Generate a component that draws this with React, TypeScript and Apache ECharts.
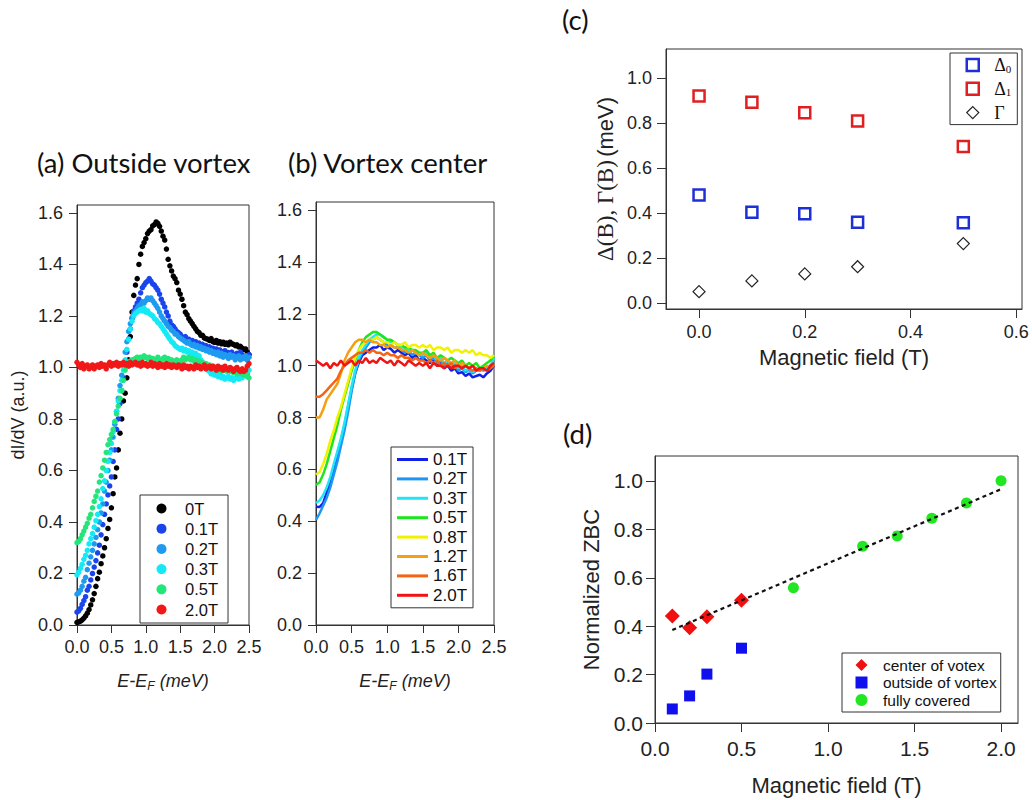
import React, { useEffect, useRef } from "react";
import * as echarts from "echarts";

// ---------------- data ----------------
// (a) Outside vortex: dI/dV sampled every 0.025 meV from 0 to 2.5 meV
const E_STEP_A = 0.025;
const fieldsA = ["0T", "0.1T", "0.2T", "0.3T", "0.5T", "2.0T"];
const colorsA = ["#000000", "#1a45ec", "#1e9bf0", "#14eaf5", "#22e67a", "#f01818"];
const dIdV_0T = [
  0.010, 0.012, 0.015, 0.020, 0.027, 0.035, 0.046, 0.060, 0.078, 0.098,
  0.122, 0.150, 0.180, 0.205, 0.238, 0.268, 0.300, 0.335, 0.375, 0.410,
  0.455, 0.510, 0.575, 0.610, 0.680, 0.745, 0.800, 0.870, 0.900, 0.960,
  1.030, 1.120, 1.215, 1.280, 1.320, 1.345, 1.400, 1.440, 1.470, 1.485,
  1.500, 1.520, 1.530, 1.535, 1.550, 1.555, 1.565, 1.560, 1.548, 1.530,
  1.510, 1.495, 1.460, 1.420, 1.395, 1.375, 1.355, 1.345, 1.330, 1.300,
  1.285, 1.265, 1.240, 1.215, 1.205, 1.190, 1.180, 1.170, 1.160, 1.150,
  1.140, 1.135, 1.125, 1.125, 1.115, 1.112, 1.110, 1.105, 1.112, 1.100,
  1.098, 1.105, 1.095, 1.100, 1.092, 1.098, 1.090, 1.095, 1.088, 1.098,
  1.092, 1.090, 1.085, 1.088, 1.080, 1.082, 1.075, 1.070, 1.072, 1.060,
  1.050,
];
const dIdV_01T = [
  0.050, 0.055, 0.065, 0.080, 0.095, 0.110, 0.135, 0.150, 0.175, 0.200,
  0.225, 0.250, 0.280, 0.310, 0.350, 0.390, 0.430, 0.470, 0.505, 0.540,
  0.575, 0.635, 0.680, 0.760, 0.800, 0.860, 0.910, 0.960, 1.010, 1.060,
  1.110, 1.150, 1.190, 1.220, 1.235, 1.250, 1.265, 1.290, 1.310, 1.320,
  1.330, 1.335, 1.345, 1.335, 1.325, 1.320, 1.310, 1.300, 1.285, 1.265,
  1.250, 1.235, 1.215, 1.200, 1.180, 1.165, 1.160, 1.150, 1.140, 1.135,
  1.130, 1.120, 1.115, 1.120, 1.105, 1.110, 1.100, 1.105, 1.095, 1.100,
  1.090, 1.095, 1.085, 1.090, 1.080, 1.085, 1.075, 1.080, 1.070, 1.075,
  1.065, 1.072, 1.060, 1.068, 1.062, 1.055, 1.065, 1.050, 1.058, 1.045,
  1.060, 1.050, 1.040, 1.055, 1.045, 1.060, 1.050, 1.035, 1.045, 1.030,
  1.050,
];
const dIdV_02T = [
  0.120, 0.125, 0.135, 0.150, 0.170, 0.185, 0.215, 0.240, 0.265, 0.290,
  0.315, 0.340, 0.370, 0.400, 0.435, 0.470, 0.520, 0.555, 0.600, 0.640,
  0.680, 0.730, 0.780, 0.830, 0.880, 0.930, 0.970, 1.010, 1.060, 1.100,
  1.140, 1.170, 1.195, 1.210, 1.220, 1.230, 1.240, 1.245, 1.255, 1.250,
  1.260, 1.270, 1.265, 1.270, 1.260, 1.250, 1.240, 1.230, 1.215, 1.200,
  1.190, 1.180, 1.170, 1.160, 1.155, 1.145, 1.140, 1.130, 1.130, 1.120,
  1.115, 1.110, 1.105, 1.100, 1.095, 1.100, 1.090, 1.085, 1.090, 1.080,
  1.085, 1.075, 1.080, 1.070, 1.075, 1.065, 1.070, 1.060, 1.065, 1.055,
  1.060, 1.050, 1.060, 1.045, 1.055, 1.040, 1.050, 1.045, 1.035, 1.050,
  1.040, 1.045, 1.030, 1.040, 1.045, 1.030, 1.040, 1.035, 1.045, 1.030,
  1.040,
];
const dIdV_03T = [
  0.195, 0.205, 0.220, 0.235, 0.255, 0.270, 0.290, 0.315, 0.335, 0.355,
  0.380, 0.405, 0.430, 0.460, 0.490, 0.530, 0.560, 0.600, 0.635, 0.670,
  0.705, 0.750, 0.790, 0.830, 0.870, 0.910, 0.950, 0.990, 1.030, 1.070,
  1.110, 1.150, 1.180, 1.200, 1.210, 1.215, 1.220, 1.225, 1.220, 1.230,
  1.215, 1.220, 1.210, 1.205, 1.200, 1.190, 1.185, 1.175, 1.170, 1.160,
  1.150, 1.140, 1.130, 1.120, 1.110, 1.100, 1.095, 1.085, 1.080, 1.075,
  1.070, 1.075, 1.065, 1.070, 1.060, 1.065, 1.055, 1.060, 1.050, 1.055,
  1.040, 1.045, 1.030, 1.020, 1.010, 1.000, 0.990, 0.985, 0.975, 0.980,
  0.970, 0.975, 0.965, 0.970, 0.960, 0.965, 0.955, 0.960, 0.965, 0.955,
  0.960, 0.950, 0.958, 0.962, 0.955, 0.965, 0.960, 0.970, 0.975, 0.985,
  0.990,
];
const dIdV_05T = [
  0.320, 0.325, 0.335, 0.350, 0.365, 0.380, 0.395, 0.415, 0.430, 0.455,
  0.480, 0.500, 0.520, 0.555, 0.580, 0.610, 0.640, 0.670, 0.700, 0.720,
  0.740, 0.760, 0.790, 0.820, 0.850, 0.880, 0.910, 0.950, 0.990, 1.010,
  1.020, 1.025, 1.030, 1.030, 1.035, 1.040, 1.030, 1.040, 1.035, 1.045,
  1.040, 1.035, 1.040, 1.030, 1.035, 1.025, 1.030, 1.040, 1.030, 1.025,
  1.035, 1.040, 1.030, 1.035, 1.025, 1.030, 1.020, 1.025, 1.030, 1.020,
  1.025, 1.030, 1.040, 1.030, 1.035, 1.040, 1.030, 1.035, 1.025, 1.030,
  1.020, 1.025, 1.015, 1.020, 1.010, 1.015, 1.005, 1.010, 1.000, 1.005,
  0.995, 1.000, 0.990, 0.995, 0.985, 0.995, 0.990, 0.985, 0.995, 0.985,
  0.990, 0.980, 0.985, 0.975, 0.985, 0.980, 0.975, 0.970, 0.980, 0.965,
  0.960,
];
const dIdV_20T = [
  1.020, 1.010, 1.000, 1.015, 0.995, 1.005, 1.010, 0.995, 1.000, 1.010,
  0.995, 1.005, 1.010, 1.000, 1.015, 1.005, 1.010, 0.995, 1.010, 1.020,
  1.005, 1.015, 1.010, 1.020, 1.005, 1.015, 1.010, 1.020, 1.010, 1.015,
  1.005, 1.020, 1.010, 1.015, 1.020, 1.010, 1.015, 1.005, 1.020, 1.010,
  1.015, 1.005, 1.010, 1.020, 1.005, 1.015, 1.010, 1.000, 1.015, 1.005,
  1.010, 1.000, 1.015, 1.005, 1.010, 1.000, 1.010, 1.005, 1.000, 1.010,
  1.005, 0.995, 1.010, 1.000, 1.005, 0.995, 1.005, 1.000, 0.995, 1.010,
  1.000, 1.005, 0.995, 1.000, 1.010, 0.995, 1.000, 1.005, 0.995, 1.005,
  1.000, 0.990, 1.005, 0.995, 1.000, 0.990, 1.005, 0.995, 0.990, 1.000,
  0.995, 0.985, 0.995, 1.000, 0.990, 0.985, 0.995, 0.985, 0.990, 1.005,
  1.015,
];
const seriesA = [dIdV_0T, dIdV_01T, dIdV_02T, dIdV_03T, dIdV_05T, dIdV_20T];

// (b) Vortex center: dI/dV sampled every 0.05 meV from 0 to 2.5 meV
const E_STEP_B = 0.05;
const fieldsB = ["0.1T", "0.2T", "0.3T", "0.5T", "0.8T", "1.2T", "1.6T", "2.0T"];
const colorsB = ["#1020e6", "#1e96f5", "#1ee6f5", "#1ee61e", "#f2f200", "#f5a014", "#f56414", "#f01414"];
const vc_01T = [0.456, 0.455, 0.47, 0.51, 0.55, 0.60, 0.65, 0.71, 0.77, 0.84, 0.91, 0.97, 1.01, 1.04, 1.05, 1.06, 1.07, 1.07, 1.08, 1.06, 1.07, 1.065, 1.05, 1.06, 1.05, 1.04, 1.05, 1.03, 1.04, 1.02, 1.03, 1.02, 1.01, 1.02, 1.00, 1.01, 0.99, 1.00, 0.98, 0.99, 0.97, 0.975, 0.96, 0.97, 0.955, 0.96, 0.965, 0.955, 0.97, 0.98, 1.00];
const vc_02T = [0.405, 0.43, 0.46, 0.49, 0.53, 0.58, 0.63, 0.69, 0.75, 0.82, 0.90, 0.97, 1.02, 1.05, 1.07, 1.09, 1.10, 1.11, 1.10, 1.09, 1.08, 1.08, 1.07, 1.07, 1.06, 1.05, 1.06, 1.04, 1.05, 1.04, 1.03, 1.04, 1.02, 1.03, 1.01, 1.02, 1.00, 1.01, 0.99, 1.00, 0.98, 0.99, 0.975, 0.985, 0.97, 0.98, 0.99, 0.98, 0.99, 1.00, 1.02];
const vc_03T = [0.47, 0.48, 0.50, 0.53, 0.57, 0.62, 0.67, 0.72, 0.78, 0.85, 0.92, 0.98, 1.03, 1.06, 1.08, 1.10, 1.11, 1.12, 1.12, 1.11, 1.10, 1.09, 1.09, 1.08, 1.07, 1.07, 1.06, 1.06, 1.05, 1.05, 1.04, 1.05, 1.03, 1.04, 1.02, 1.03, 1.01, 1.02, 1.00, 1.01, 0.99, 1.00, 0.98, 0.99, 0.975, 0.985, 0.98, 0.99, 0.985, 1.00, 1.03];
const vc_05T = [0.54, 0.55, 0.58, 0.62, 0.67, 0.72, 0.77, 0.83, 0.88, 0.93, 0.98, 1.02, 1.06, 1.09, 1.11, 1.12, 1.13, 1.13, 1.12, 1.11, 1.10, 1.10, 1.09, 1.08, 1.08, 1.07, 1.07, 1.06, 1.06, 1.05, 1.05, 1.06, 1.04, 1.05, 1.03, 1.04, 1.03, 1.02, 1.03, 1.02, 1.01, 1.02, 1.00, 1.01, 1.00, 1.01, 0.99, 1.00, 1.01, 1.02, 1.04];
const vc_08T = [0.58, 0.59, 0.62, 0.66, 0.71, 0.75, 0.80, 0.84, 0.89, 0.94, 0.99, 1.03, 1.06, 1.08, 1.09, 1.10, 1.10, 1.11, 1.10, 1.09, 1.09, 1.08, 1.09, 1.08, 1.08, 1.09, 1.07, 1.08, 1.08, 1.07, 1.08, 1.07, 1.08, 1.06, 1.07, 1.07, 1.06, 1.07, 1.05, 1.06, 1.06, 1.05, 1.06, 1.05, 1.06, 1.04, 1.05, 1.04, 1.04, 1.03, 1.04];
const vc_12T = [0.80, 0.80, 0.83, 0.87, 0.89, 0.91, 0.93, 0.97, 1.02, 1.05, 1.07, 1.09, 1.10, 1.10, 1.09, 1.10, 1.09, 1.09, 1.08, 1.08, 1.07, 1.08, 1.07, 1.07, 1.06, 1.06, 1.05, 1.06, 1.05, 1.04, 1.05, 1.04, 1.03, 1.04, 1.03, 1.02, 1.03, 1.02, 1.01, 1.02, 1.00, 1.01, 1.00, 0.99, 1.00, 0.99, 0.98, 0.99, 1.00, 0.99, 1.01];
const vc_16T = [0.88, 0.88, 0.89, 0.905, 0.92, 0.935, 0.95, 0.98, 1.00, 1.02, 1.03, 1.04, 1.05, 1.05, 1.06, 1.05, 1.06, 1.05, 1.05, 1.04, 1.05, 1.04, 1.04, 1.03, 1.04, 1.03, 1.03, 1.02, 1.03, 1.02, 1.02, 1.01, 1.02, 1.01, 1.02, 1.00, 1.01, 1.00, 1.01, 0.99, 1.00, 0.99, 1.00, 0.99, 0.98, 0.99, 0.98, 0.99, 0.98, 0.99, 1.00];
const vc_20T = [1.02, 1.01, 1.00, 1.01, 0.99, 1.01, 1.00, 1.02, 1.00, 1.01, 1.02, 1.00, 1.02, 1.01, 1.03, 1.01, 1.02, 1.01, 1.03, 1.02, 1.01, 1.02, 1.00, 1.02, 1.01, 1.00, 1.02, 1.01, 1.00, 1.01, 1.00, 1.01, 0.99, 1.01, 1.00, 1.00, 0.99, 1.00, 0.99, 1.00, 1.00, 0.99, 1.00, 0.99, 1.00, 0.98, 0.99, 0.99, 0.98, 1.00, 1.01];
const seriesB = [vc_01T, vc_02T, vc_03T, vc_05T, vc_08T, vc_12T, vc_16T, vc_20T];

// (c) gap parameters
const fieldC = [0, 0.1, 0.2, 0.3, 0.5];
const delta0 = [0.48, 0.403, 0.397, 0.359, 0.356];
const delta1 = [0.92, 0.892, 0.846, 0.809, 0.695];
const gammaC = [0.05, 0.098, 0.129, 0.161, 0.264];

// (d) normalized ZBC
const fieldDVortex = [0.1, 0.2, 0.3, 0.5];
const zbcCenter = [0.442, 0.394, 0.439, 0.507];
const zbcOutside = [0.058, 0.112, 0.202, 0.309];
const fieldDFull = [0.8, 1.2, 1.4, 1.6, 1.8, 2.0];
const zbcFull = [0.559, 0.73, 0.773, 0.846, 0.909, 1.001];
const fitField = [0.1, 2.0];
const fitZbc = [0.384, 0.966];

// tick values
const ticksAB_y = [0, 0.2, 0.4, 0.6, 0.8, 1.0, 1.2, 1.4, 1.6];
const ticksAB_x = [0, 0.5, 1.0, 1.5, 2.0, 2.5];
const ticksC_x = [0, 0.2, 0.4, 0.6];
const ticksC_y = [0, 0.2, 0.4, 0.6, 0.8, 1.0];
const ticksD_x = [0, 0.5, 1.0, 1.5, 2.0];
const ticksD_y = [0, 0.2, 0.4, 0.6, 0.8, 1.0];

// ---------------- styling helpers ----------------
const SANS = "Arial, 'Liberation Sans', sans-serif";
const SERIF = "'Liberation Serif', 'Times New Roman', serif";
const TITLE_FONT = "Lato, 'Open Sans', sans-serif";
const INK = "#222";

const SQUARE_PATH = "path://M0,0L10,0L10,10L0,10Z";
const DIAMOND_PATH = "path://M5,0L10,5L5,10L0,5Z";

function valueAxis(opts: {
  gridIndex: number;
  min: number;
  max: number;
  ticks: number[];
  fontSize: number;
  tickLen: number;
  margin: number;
  name?: string;
  nameGap?: number;
  nameTextStyle?: any;
}) {
  return {
    type: "value",
    gridIndex: opts.gridIndex,
    min: opts.min,
    max: opts.max,
    name: opts.name || "",
    nameLocation: "middle",
    nameGap: opts.nameGap || 0,
    nameTextStyle: opts.nameTextStyle || {},
    axisLine: { show: true, onZero: false, lineStyle: { color: "#333", width: 1 } },
    axisTick: {
      show: true,
      inside: false,
      length: opts.tickLen,
      customValues: opts.ticks,
      lineStyle: { color: "#333", width: 1 },
    },
    axisLabel: {
      show: true,
      customValues: opts.ticks,
      margin: opts.margin,
      color: INK,
      fontSize: opts.fontSize,
      fontFamily: SANS,
      formatter: (v: number) => v.toFixed(1),
    },
    splitLine: { show: false },
  };
}

const eAxisName = {
  rich: {
    i: { fontStyle: "italic", fontSize: 18, fontFamily: SANS, color: INK, lineHeight: 22 },
    s: { fontStyle: "italic", fontSize: 12, fontFamily: SANS, color: INK, lineHeight: 12, verticalAlign: "bottom" },
  },
};

export default function App() {
  const ref = useRef<HTMLDivElement>(null);

  useEffect(() => {
    document.body.style.margin = "0";
    if (!ref.current) return;
    const chart = echarts.init(ref.current, undefined, { renderer: "svg" });

    const gridStyle = { show: true, borderColor: "#333", borderWidth: 1, backgroundColor: "transparent" };

    const series: any[] = [];
    seriesA.forEach((vals, k) => {
      series.push({
        name: "a" + fieldsA[k],
        type: "scatter",
        xAxisIndex: 0,
        yAxisIndex: 0,
        symbol: "circle",
        symbolSize: 5.5,
        itemStyle: { color: colorsA[k], opacity: 1 },
        data: vals.map((v, i) => [+(i * E_STEP_A).toFixed(3), v]),
        silent: true,
      });
    });
    seriesB.forEach((vals, k) => {
      series.push({
        name: "b" + fieldsB[k],
        type: "line",
        xAxisIndex: 1,
        yAxisIndex: 1,
        symbol: "none",
        showSymbol: false,
        lineStyle: { color: colorsB[k], width: 2.5 },
        itemStyle: { color: colorsB[k] },
        data: vals.map((v, i) => [+(i * E_STEP_B).toFixed(3), v]),
        silent: true,
      });
    });
    series.push(
      {
        name: "Δ0",
        type: "scatter",
        xAxisIndex: 2,
        yAxisIndex: 2,
        symbol: "rect",
        symbolSize: 11,
        itemStyle: { color: "#ffffff", borderColor: "#1f2fd8", borderWidth: 2.5, opacity: 1 },
        data: fieldC.map((b, i) => [b, delta0[i]]),
      },
      {
        name: "Δ1",
        type: "scatter",
        xAxisIndex: 2,
        yAxisIndex: 2,
        symbol: "rect",
        symbolSize: 11,
        itemStyle: { color: "#ffffff", borderColor: "#e02020", borderWidth: 2.5, opacity: 1 },
        data: fieldC.map((b, i) => [b, delta1[i]]),
      },
      {
        name: "Γ",
        type: "scatter",
        xAxisIndex: 2,
        yAxisIndex: 2,
        symbol: "diamond",
        symbolSize: 12,
        itemStyle: { color: "#ffffff", borderColor: "#222", borderWidth: 1.2, opacity: 1 },
        data: fieldC.map((b, i) => [b, gammaC[i]]),
      },
      {
        name: "fit",
        type: "line",
        xAxisIndex: 3,
        yAxisIndex: 3,
        symbol: "none",
        lineStyle: { color: "#111", width: 2.2, type: [4, 3.5] },
        data: fitField.map((b, i) => [b, fitZbc[i]]),
        silent: true,
      },
      {
        name: "center of votex",
        type: "scatter",
        xAxisIndex: 3,
        yAxisIndex: 3,
        symbol: "diamond",
        symbolSize: 15,
        itemStyle: { color: "#f01010", opacity: 1 },
        data: fieldDVortex.map((b, i) => [b, zbcCenter[i]]),
      },
      {
        name: "outside of vortex",
        type: "scatter",
        xAxisIndex: 3,
        yAxisIndex: 3,
        symbol: "rect",
        symbolSize: 11,
        itemStyle: { color: "#1010ee", opacity: 1 },
        data: fieldDVortex.map((b, i) => [b, zbcOutside[i]]),
      },
      {
        name: "fully covered",
        type: "scatter",
        xAxisIndex: 3,
        yAxisIndex: 3,
        symbol: "circle",
        symbolSize: 11,
        itemStyle: { color: "#22e622", opacity: 1 },
        data: fieldDFull.map((b, i) => [b, zbcFull[i]]),
      }
    );

    const titleStyle = { fontFamily: TITLE_FONT, fontSize: 27.5, fontWeight: "normal", color: "#111" };

    const option: any = {
      animation: false,
      backgroundColor: "#ffffff",
      title: [
        { text: "(a) Outside vortex", left: 37, top: 148, padding: 0, textStyle: titleStyle },
        { text: "(b) Vortex center", left: 288, top: 148, padding: 0, textStyle: titleStyle },
        { text: "(c)", left: 562, top: 5, padding: 0, textStyle: titleStyle },
        { text: "(d)", left: 563, top: 419, padding: 0, textStyle: titleStyle },
      ],
      grid: [
        { left: 77, top: 205, width: 172, height: 420, ...gridStyle },
        { left: 316, top: 202, width: 178, height: 423, ...gridStyle },
        { left: 666, top: 49, width: 356, height: 260, ...gridStyle },
        { left: 655, top: 456, width: 363, height: 267, ...gridStyle },
      ],
      xAxis: [
        valueAxis({
          gridIndex: 0, min: 0, max: 2.5, ticks: ticksAB_x, fontSize: 18, tickLen: 8, margin: 13,
          name: "{i|E-E}{s|F}{i| (meV)}", nameGap: 45, nameTextStyle: eAxisName,
        }),
        valueAxis({
          gridIndex: 1, min: 0, max: 2.5, ticks: ticksAB_x, fontSize: 18, tickLen: 8, margin: 13,
          name: "{i|E-E}{s|F}{i| (meV)}", nameGap: 45, nameTextStyle: eAxisName,
        }),
        valueAxis({
          gridIndex: 2, min: -0.0625, max: 0.611, ticks: ticksC_x, fontSize: 18, tickLen: 9, margin: 14,
          name: "Magnetic field (T)", nameGap: 37,
          nameTextStyle: { fontSize: 22, fontFamily: SANS, color: INK },
        }),
        valueAxis({
          gridIndex: 3, min: 0, max: 2.098, ticks: ticksD_x, fontSize: 21, tickLen: 9, margin: 15,
          name: "Magnetic field (T)", nameGap: 51,
          nameTextStyle: { fontSize: 22, fontFamily: SANS, color: INK },
        }),
      ],
      yAxis: [
        valueAxis({
          gridIndex: 0, min: 0, max: 1.631, ticks: ticksAB_y, fontSize: 18, tickLen: 8, margin: 14,
          name: "dI/dV (a.u.)", nameGap: 50,
          nameTextStyle: { fontSize: 18, fontFamily: SANS, color: INK },
        }),
        valueAxis({
          gridIndex: 1, min: 0, max: 1.631, ticks: ticksAB_y, fontSize: 18, tickLen: 8, margin: 14,
        }),
        valueAxis({
          gridIndex: 2, min: -0.027, max: 1.129, ticks: ticksC_y, fontSize: 18, tickLen: 9, margin: 14,
          name: "{s|Δ(B), Γ(B)} {a|(meV)}", nameGap: 49,
          nameTextStyle: {
            rich: {
              s: { fontSize: 23, fontFamily: SERIF, color: INK },
              a: { fontSize: 22, fontFamily: SANS, color: INK },
            },
          },
        }),
        valueAxis({
          gridIndex: 3, min: 0, max: 1.103, ticks: ticksD_y, fontSize: 21, tickLen: 9, margin: 12,
          name: "Normalized ZBC", nameGap: 53,
          nameTextStyle: { fontSize: 22, fontFamily: SANS, color: INK },
        }),
      ],
      legend: [
        {
          orient: "vertical",
          left: 140,
          top: 495,
          padding: [5, 10, 5, 16.5],
          itemWidth: 37,
          itemHeight: 10,
          itemGap: 3.2,
          borderColor: "#333",
          borderWidth: 1,
          selectedMode: false,
          textStyle: { fontSize: 16.5, lineHeight: 16, fontFamily: SANS, color: "#111" },
          formatter: (n: string) => n.slice(1),
          data: fieldsA.map((f) => ({ name: "a" + f, icon: "circle" })),
        },
        {
          orient: "vertical",
          left: 391,
          top: 447,
          padding: [4, 6, 4, 6],
          itemWidth: 31,
          itemHeight: 3,
          itemGap: 2.4,
          borderColor: "#333",
          borderWidth: 1,
          selectedMode: false,
          textStyle: { fontSize: 17, lineHeight: 17, fontFamily: SANS, color: "#111" },
          formatter: (n: string) => n.slice(1),
          data: fieldsB.map((f) => ({ name: "b" + f, icon: "rect" })),
        },
        {
          orient: "vertical",
          left: 950,
          top: 53,
          padding: [3, 6, 3, 15.5],
          itemWidth: 33,
          itemHeight: 12,
          itemGap: 5.8,
          borderColor: "#333",
          borderWidth: 1,
          selectedMode: false,
          symbolKeepAspect: true,
          textStyle: {
            fontSize: 17,
            lineHeight: 18,
            fontFamily: SERIF,
            color: "#111",
            rich: {
              g: { fontSize: 18, fontFamily: SERIF, color: "#111", lineHeight: 18 },
              s: { fontSize: 11, fontFamily: SERIF, color: "#111", lineHeight: 11, verticalAlign: "bottom" },
            },
          },
          formatter: (n: string) => (n === "Γ" ? "{g|Γ}" : "{g|Δ}{s|" + n.slice(1) + "}"),
          data: [
            { name: "Δ0", icon: SQUARE_PATH, itemStyle: { color: "#ffffff", borderColor: "#1f2fd8", borderWidth: 2.5 } },
            { name: "Δ1", icon: SQUARE_PATH, itemStyle: { color: "#ffffff", borderColor: "#e02020", borderWidth: 2.5 } },
            { name: "Γ", icon: DIAMOND_PATH, itemStyle: { color: "#ffffff", borderColor: "#222", borderWidth: 1.2 } },
          ],
        },
        {
          orient: "vertical",
          left: 842,
          top: 653,
          padding: [4, 4, 4, 13.5],
          itemWidth: 33,
          itemHeight: 12,
          itemGap: 1.5,
          borderColor: "#333",
          borderWidth: 1,
          selectedMode: false,
          symbolKeepAspect: true,
          textStyle: { fontSize: 15.5, lineHeight: 16, fontFamily: SANS, color: "#111" },
          data: [
            { name: "center of votex", icon: DIAMOND_PATH, itemStyle: { color: "#f01010" } },
            { name: "outside of vortex", icon: SQUARE_PATH, itemStyle: { color: "#1010ee" } },
            { name: "fully covered", icon: "circle", itemStyle: { color: "#22e622" } },
          ],
        },
      ],
      series,
    };

    chart.setOption(option);
    return () => chart.dispose();
  }, []);

  return <div ref={ref} style={{ width: 1032, height: 800 }} />;
}
